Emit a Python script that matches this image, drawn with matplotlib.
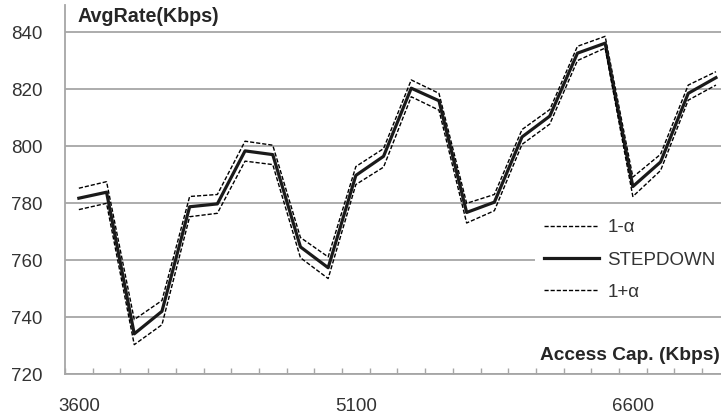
import matplotlib
matplotlib.use("Agg")
import matplotlib.pyplot as plt
from matplotlib.ticker import FixedLocator, NullFormatter

plt.rcParams['font.family'] = ['Liberation Sans', 'DejaVu Sans']

# access capacity categories (Kbps)
caps = [3600, 3750, 3900, 4050, 4200, 4350, 4500, 4650, 4800, 4950,
        5100, 5250, 5400, 5550, 5700, 5850, 6000, 6150, 6300, 6450,
        6600, 6750, 6900, 7050]

stepdown = [781.8, 783.9, 734.2, 742.1, 778.8, 779.8, 798.4, 797.1, 764.7, 757.4,
            789.8, 796.5, 820.4, 816.0, 776.8, 780.4, 803.3, 810.6, 832.7, 836.2,
            785.9, 794.5, 818.6, 824.1]
minus_a = [785.3, 787.6, 739.2, 745.9, 782.4, 783.1, 801.8, 800.4, 768.0, 761.2,
           792.9, 799.2, 823.3, 818.6, 780.0, 783.1, 805.9, 812.9, 835.1, 838.6,
           789.2, 797.2, 821.5, 826.2]
plus_a = [777.8, 780.0, 730.4, 737.4, 775.3, 776.5, 794.8, 793.6, 760.9, 753.6,
          786.6, 792.7, 817.4, 812.7, 773.1, 777.4, 800.7, 807.8, 830.1, 834.5,
          782.4, 791.5, 816.2, 821.5]

W, H = 721, 420
fig = plt.figure(figsize=(W / 100, H / 100), dpi=100)
ax = fig.add_axes([65 / W, 45.7 / H, 1 - 65 / W, (374.3 - 5) / H])

idx = list(range(len(caps)))
grey = '#a6a6a6'

ax.plot(idx, minus_a, color='black', lw=1.0, dashes=(3, 1.4), label='1-α')
ax.plot(idx, stepdown, color='#1a1a1a', lw=2.3, label='STEPDOWN')
ax.plot(idx, plus_a, color='black', lw=1.0, dashes=(3, 1.4), label='1+α')

ax.set_ylim(720, 849.6)
ax.set_xlim(-0.5, -0.5 + (W - 65) / 27.7)
ax.set_yticks([720, 740, 760, 780, 800, 820, 840])
ax.yaxis.grid(True, color=grey, lw=1.3)
ax.set_axisbelow(True)

# ticks between categories, labels every 10th category
ax.xaxis.set_major_locator(FixedLocator([i - 0.5 for i in range(len(caps) + 1)]))
ax.xaxis.set_major_formatter(NullFormatter())
ax.xaxis.set_minor_locator(FixedLocator([0, 10, 20]))
ax.set_xticklabels([str(caps[0]), str(caps[10]), str(caps[20])], minor=True)
ax.tick_params(axis='x', which='major', direction='in', length=4.3, width=1, color=grey)
ax.tick_params(axis='x', which='minor', length=0, pad=17, labelsize=13.5, labelcolor='#333333')
ax.tick_params(axis='y', length=0, pad=16, labelsize=13.5, labelcolor='#333333')

for s in ['top', 'right']:
    ax.spines[s].set_visible(False)
ax.spines['left'].set_color(grey)
ax.spines['bottom'].set_color(grey)
ax.spines['left'].set_linewidth(1.3)
ax.spines['bottom'].set_linewidth(1.3)

fig.text(78 / W, 1 - 17 / H, 'AvgRate(Kbps)', fontsize=14.2, fontweight='bold',
         color='#262626', ha='left', va='center')
fig.text(720 / W, 1 - 355 / H, 'Access Cap. (Kbps)', fontsize=13.8, fontweight='bold',
         color='#262626', ha='right', va='center')

leg = ax.legend(loc='upper left', bbox_to_anchor=(535 / W, 1 - 210 / H),
                bbox_transform=fig.transFigure, borderaxespad=0, fontsize=13.5,
                frameon=True, fancybox=False, handlelength=2.9, handletextpad=0.45,
                labelspacing=0.8, borderpad=0.5)
leg.get_frame().set_facecolor('white')
leg.get_frame().set_edgecolor('none')
leg.get_frame().set_alpha(1)
for t in leg.get_texts():
    t.set_color('#333333')

fig.savefig('out.png', dpi=100)
